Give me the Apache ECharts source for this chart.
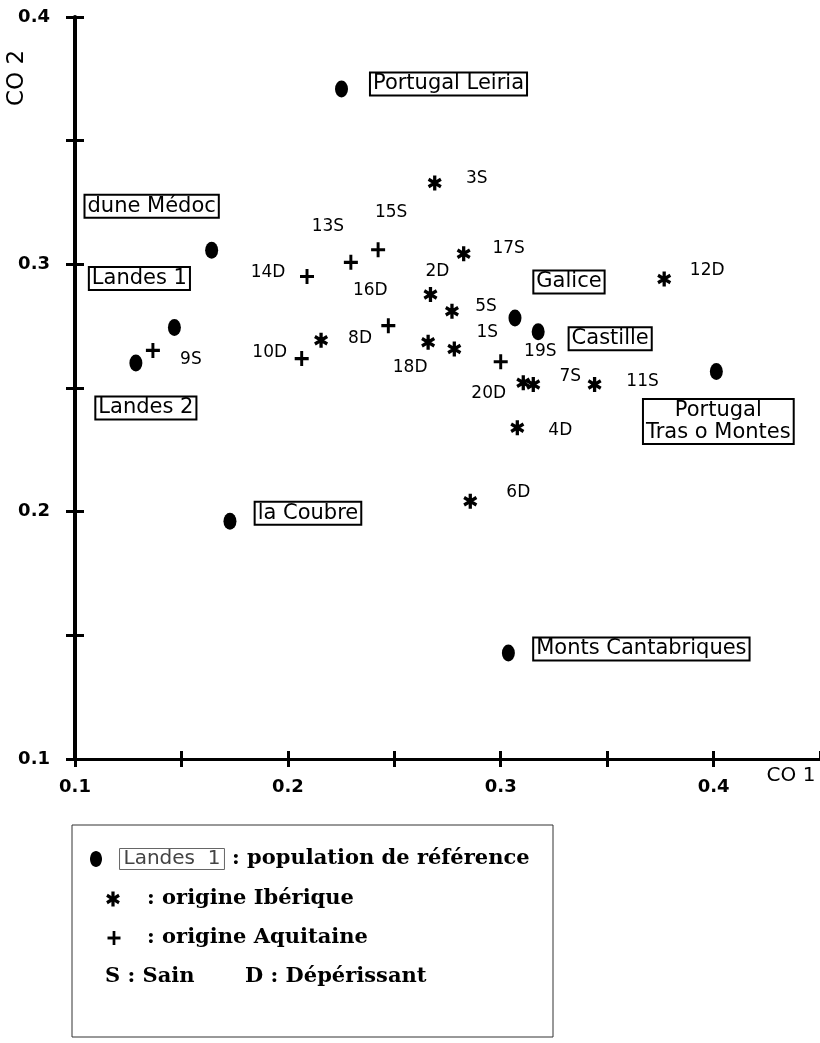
<!DOCTYPE html>
<html>
<head>
<meta charset="utf-8">
<script src="https://cdn.jsdelivr.net/npm/echarts@6/dist/echarts.min.js"></script>
<style>
html,body{margin:0;padding:0;background:#fff;}
#chart{width:820px;height:1043px;}
</style>
</head>
<body>
<div id="chart"></div>
<script>
// ---------- data ----------
const xTickLabels = ['0.1', '0.2', '0.3', '0.4'];
const yTickLabels = ['0.1', '0.2', '0.3', '0.4'];

// reference populations (filled dots)
const refNames = ['Portugal Leiria', 'dune Médoc', 'Landes 1', 'Landes 2', 'la Coubre',
                  'Galice', 'Castille', 'Portugal\nTras o Montes', 'Monts Cantabriques'];
const refX = [0.2252, 0.1642, 0.1467, 0.1286, 0.1728, 0.3067, 0.3176, 0.4013, 0.3036];
const refY = [0.3709, 0.3057, 0.2745, 0.2601, 0.1961, 0.2783, 0.2727, 0.2567, 0.1429];

// trees of Iberian origin (asterisks)
const ibNames = ['3S', '17S', '12D', '2D', '5S', '1S', '18D', '19S', '7S', '11S', '4D', '6D', '8D'];
const ibX = [0.2690, 0.2826, 0.3768, 0.2670, 0.2771, 0.2782, 0.2659, 0.3106, 0.3153, 0.3441, 0.3078, 0.2857, 0.2156];
const ibY = [0.3329, 0.3043, 0.2941, 0.2878, 0.2810, 0.2658, 0.2685, 0.2521, 0.2514, 0.2514, 0.2339, 0.2042, 0.2693];

// trees of Aquitaine origin (plus signs)
const aqNames = ['9S', '10D', '14D', '13S', '15S', '16D', '20D'];
const aqX = [0.1366, 0.2065, 0.2090, 0.2296, 0.2424, 0.2472, 0.3000];
const aqY = [0.2652, 0.2619, 0.2951, 0.3008, 0.3059, 0.2752, 0.2606];

// ---------- layout (label placement, px) ----------
const labelOffsets = {
  'Portugal Leiria': [107, -5], 'dune Médoc': [-60, -44], 'Landes 1': [-35, -49],
  'Landes 2': [10, 45], 'la Coubre': [78, -8], 'Galice': [54, -36], 'Castille': [72, 7],
  'Portugal\nTras o Montes': [2, 50], 'Monts Cantabriques': [133, -4],
  '3S': [42, -4], '17S': [45, -5], '12D': [43, -8], '2D': [7, -23], '5S': [34, -5],
  '1S': [33, -16], '18D': [-18, 25], '19S': [17, -31], '7S': [37, -8], '11S': [48, -3],
  '4D': [43, 3], '6D': [48, -9], '8D': [39, -2],
  '9S': [38, 9], '10D': [-32, -6], '14D': [-39, -4], '13S': [-23, -36], '15S': [13, -37],
  '16D': [-18, -35], '20D': [-12, 32]
};

// asterisk = three bars, plus = two bars (coordinates in a 20x20 box, centre 10,10)
function bar(angleDeg, halfLen, halfW) {
  const a = angleDeg * Math.PI / 180, c = Math.cos(a), s = Math.sin(a);
  return [[-halfW, -halfLen], [halfW, -halfLen], [halfW, halfLen], [-halfW, halfLen]]
    .map(p => [+(10 + p[0] * c - p[1] * s).toFixed(3), +(10 + p[0] * s + p[1] * c).toFixed(3)]);
}
const STAR_BARS = [bar(0, 10, 2.3), bar(60, 10, 2.3), bar(-60, 10, 2.3)];
const PLUS_BARS = [bar(0, 10, 2.1), bar(90, 10, 2.1)];
function barsToPath(bars) {
  return 'path://' + bars.map(b => 'M' + b.map(p => p[0] + ',' + p[1]).join(' L') + ' Z').join(' ');
}
function barsToPolygons(bars, cx, cy, w, h) {
  return bars.map(b => ({
    type: 'polygon',
    shape: { points: b.map(p => [cx + (p[0] - 10) * w / 20, cy + (p[1] - 10) * h / 20]) },
    style: { fill: '#000' }
  }));
}
const STAR_PATH = barsToPath(STAR_BARS);
const PLUS_PATH = barsToPath(PLUS_BARS);

function build(names, xs, ys) {
  return names.map((n, i) => ({
    name: n,
    value: [xs[i], ys[i]],
    label: { offset: labelOffsets[n] }
  }));
}

function tickFmt(labels) {
  return function (v) {
    const i = Math.round((v - 0.1) / 0.1);
    if (Math.abs(v - (0.1 + 0.1 * i)) < 1e-6 && i >= 0 && i < labels.length) return labels[i];
    return '';
  };
}

const axisFont = { fontFamily: 'DejaVu Sans', fontWeight: 'bold', fontSize: 18, color: '#000' };

const chart = echarts.init(document.getElementById('chart'), null, { renderer: 'canvas' });

const gridBox = { left: 75, top: 17, width: 750, height: 742 };

const legendFont = 'bold 21px "DejaVu Serif"';

const treeLabel = {
  show: true, position: 'inside', formatter: '{b}',
  fontFamily: 'DejaVu Sans', fontSize: 17, color: '#000'
};

const option = {
  backgroundColor: '#fff',
  animation: false,
  grid: Object.assign({ containLabel: false }, gridBox),
  xAxis: [
    {
      type: 'value', min: 0.1, max: 0.45, interval: 0.05, position: 'bottom',
      axisLine: { show: true, onZero: false, lineStyle: { color: '#000', width: 3 } },
      axisTick: { show: true, inside: false, length: 8, lineStyle: { color: '#000', width: 3 } },
      axisLabel: Object.assign({ formatter: tickFmt(xTickLabels), margin: 19, showMaxLabel: false }, axisFont),
      splitLine: { show: false }
    },
    {
      type: 'value', min: 0.1, max: 0.45, interval: 0.05, position: 'bottom',
      axisLine: { show: false, onZero: false },
      axisTick: { show: true, inside: true, length: 8, lineStyle: { color: '#000', width: 3 } },
      axisLabel: { show: false },
      splitLine: { show: false }
    }
  ],
  yAxis: [
    {
      type: 'value', min: 0.1, max: 0.4, interval: 0.05, position: 'left',
      axisLine: { show: true, onZero: false, lineStyle: { color: '#000', width: 4 } },
      axisTick: { show: true, inside: false, length: 9, lineStyle: { color: '#000', width: 3 } },
      axisLabel: Object.assign({ formatter: tickFmt(yTickLabels), margin: 25 }, axisFont),
      splitLine: { show: false }
    },
    {
      type: 'value', min: 0.1, max: 0.4, interval: 0.05, position: 'left',
      axisLine: { show: false, onZero: false },
      axisTick: { show: true, inside: true, length: 9, lineStyle: { color: '#000', width: 3 } },
      axisLabel: { show: false },
      splitLine: { show: false }
    }
  ],
  series: [
    {
      name: 'population de référence',
      type: 'scatter',
      xAxisIndex: 0, yAxisIndex: 0,
      symbol: 'circle',
      symbolSize: [13, 17],
      itemStyle: { color: '#000', opacity: 1 },
      label: {
        show: true, position: 'inside', formatter: '{b}',
        fontFamily: 'DejaVu Sans', fontSize: 21, color: '#000', lineHeight: 22,
        borderColor: '#000', borderWidth: 2, padding: [1, 3, 0, 3], align: 'center'
      },
      emphasis: { disabled: true },
      data: build(refNames, refX, refY)
    },
    {
      name: 'origine Ibérique',
      type: 'scatter',
      xAxisIndex: 0, yAxisIndex: 0,
      symbol: STAR_PATH,
      symbolSize: [14, 15],
      itemStyle: { color: '#000', opacity: 1 },
      label: treeLabel,
      emphasis: { disabled: true },
      data: build(ibNames, ibX, ibY)
    },
    {
      name: 'origine Aquitaine',
      type: 'scatter',
      xAxisIndex: 0, yAxisIndex: 0,
      symbol: PLUS_PATH,
      symbolSize: [14, 15],
      itemStyle: { color: '#000', opacity: 1 },
      label: treeLabel,
      emphasis: { disabled: true },
      data: build(aqNames, aqX, aqY)
    }
  ],
  graphic: [
    { type: 'text', x: 17, y: 78, rotation: Math.PI / 2,
      style: { text: 'CO 2', font: '23px "DejaVu Sans"', fill: '#000', align: 'center', verticalAlign: 'middle' } },
    { type: 'text', x: 791, y: 776,
      style: { text: 'CO 1', font: '20px "DejaVu Sans"', fill: '#000', align: 'center', verticalAlign: 'middle' } },
    // legend box
    { type: 'rect', shape: { x: 72, y: 825, width: 481, height: 212 },
      style: { fill: 'none', stroke: '#333', lineWidth: 1 } },
    { type: 'ellipse', shape: { cx: 96, cy: 859, rx: 6, ry: 8 }, style: { fill: '#000' } },
    { type: 'text', x: 172, y: 859,
      style: { text: 'Landes  1', font: '20px "DejaVu Sans"', fill: '#444', align: 'center', verticalAlign: 'middle',
               borderColor: '#666', borderWidth: 1, padding: [1, 4, 0, 4] } },
    { type: 'text', x: 232, y: 859,
      style: { text: ': population de référence', font: legendFont, fill: '#000', verticalAlign: 'middle' } }
  ]
    .concat(barsToPolygons(STAR_BARS, 113, 899, 14, 15))
    .concat([
      { type: 'text', x: 147, y: 899,
        style: { text: ': origine Ibérique', font: legendFont, fill: '#000', verticalAlign: 'middle' } }
    ])
    .concat(barsToPolygons(PLUS_BARS, 114, 938, 13, 14))
    .concat([
      { type: 'text', x: 147, y: 938,
        style: { text: ': origine Aquitaine', font: legendFont, fill: '#000', verticalAlign: 'middle' } },
      { type: 'text', x: 105, y: 977,
        style: { text: 'S : Sain', font: legendFont, fill: '#000', verticalAlign: 'middle' } },
      { type: 'text', x: 245, y: 977,
        style: { text: 'D : Dépérissant', font: legendFont, fill: '#000', verticalAlign: 'middle' } }
    ])
};

chart.setOption(option);
</script>
</body>
</html>
